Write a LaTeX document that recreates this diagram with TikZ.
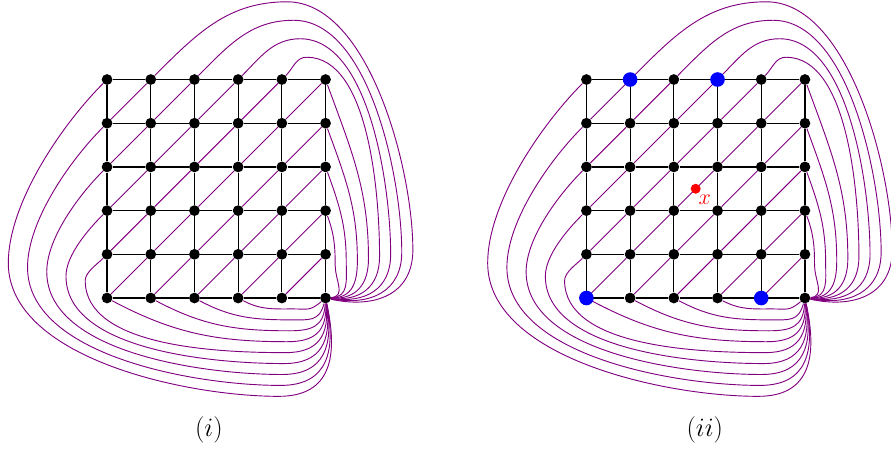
\documentclass[tikz,border=0pt]{standalone}
\usepackage{tikz}

\begin{document}
\begin{tikzpicture}[
  dot/.style={circle, fill=black, inner sep=0pt, minimum size=7pt},
  bigdot/.style={circle, fill=blue, inner sep=0pt, minimum size=9.5pt},
  reddot/.style={circle, fill=red, inner sep=0pt, minimum size=6.5pt},
  gridline/.style={line width=0.8pt},
  diag/.style={violet, line width=0.6pt},
  wrap/.style={violet, line width=0.6pt},
]

\useasboundingbox (-2.45,-3.55) rectangle (17.94,6.82);

\foreach \g/\dx in {a/0, b/10.97} {
  \begin{scope}[xshift=\dx cm]
    % vertices
    \foreach \p in {0,...,5}
      \foreach \q in {0,...,5}
        \node[dot] (\g\p\q) at (\p,\q) {};
    % grid and diagonals
    \foreach \p in {0,...,5}
      \foreach \q in {0,...,4} {
        \pgfmathtruncatemacro{\r}{\q+1}
        \draw[gridline] (\g\p\q) -- (\g\p\r);
        \draw[gridline] (\g\q\p) -- (\g\r\p);
      }
    \foreach \p in {0,...,4}
      \foreach \q in {0,...,4} {
        \pgfmathtruncatemacro{\s}{\p+1}
        \pgfmathtruncatemacro{\r}{\q+1}
        \draw[diag] (\g\p\q) -- (\g\s\r);
      }
    % curves round the left and the bottom
    \foreach \k in {1,...,9} {
      \pgfmathsetmacro{\bx}{4.25-0.04*(\k-1)}
      \pgfmathsetmacro{\by}{-0.25*\k}
      \pgfmathsetmacro{\ba}{-70-70/\k}
      \ifnum\k<5
        \pgfmathtruncatemacro{\p}{4-\k}
        \draw[wrap] (\g\p0) to[out=-28, in=180] (\bx,\by)
          to[out=0, in=\ba, looseness=1.3] (\g50);
      \else
        \pgfmathtruncatemacro{\q}{\k-4}
        \pgfmathsetmacro{\lx}{-0.5-0.44*(\k-5)}
        \pgfmathsetmacro{\ly}{0.4+0.1*(\k-5)}
        \draw[wrap] (\g0\q) to[out=225, in=90, looseness=0.75] (\lx,\ly)
          to[out=-90, in=180, looseness=0.8] (\bx,\by)
          to[out=0, in=\ba, looseness=1.3] (\g50);
      \fi
    }
    % curves round the top and the right
    \foreach \m in {1,...,8} {
      \pgfmathsetmacro{\rx}{5.22+0.254*(\m-1)}
      \pgfmathsetmacro{\ry}{0.75+0.05*(\m-1)}
      \pgfmathsetmacro{\ra}{5-2.5*(\m-1)}
      \ifnum\m<5
        \pgfmathtruncatemacro{\q}{\m+1}
        \draw[wrap] (\g5\q) to[out=-70, in=90] (\rx,\ry)
          to[out=-90, in=\ra, looseness=1.2] (\g50);
      \else
        \pgfmathtruncatemacro{\p}{9-\m}
        \pgfmathsetmacro{\tx}{4.57-0.15*(\m-5)}
        \pgfmathsetmacro{\ty}{5.51+0.423*(\m-5)}
        \draw[wrap] (\g\p5) to[out=45, in=180] (\tx,\ty)
          to[out=0, in=90, looseness=0.75] (\rx,\ry)
          to[out=-90, in=\ra, looseness=1.2] (\g50);
      \fi
    }
  \end{scope}
}

% marked vertices of the second grid
\node[bigdot] (blue15) at (b15) {};
\node[bigdot] (blue35) at (b35) {};
\node[bigdot] (blue00) at (b00) {};
\node[bigdot] (blue40) at (b40) {};
\node[reddot, label={[text=red, font=\Large, inner sep=0.5pt]-70:$x$}] (xpt) at (13.47,2.5) {};

\node[font=\LARGE] (cap1) at (2.33,-3.02) {$(i)$};
\node[font=\LARGE] (cap2) at (13.68,-3.02) {$(ii)$};

\end{tikzpicture}
\end{document}
